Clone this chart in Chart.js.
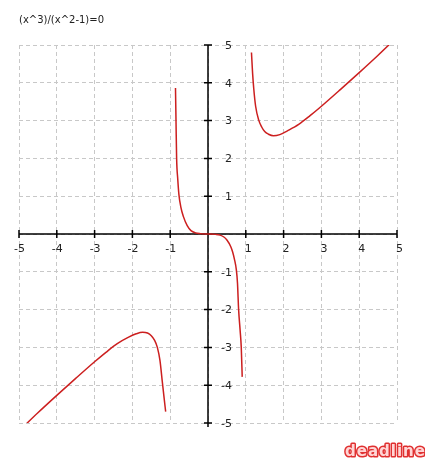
<!DOCTYPE html>
<html>
<head>
<meta charset="utf-8">
<script src="https://cdn.jsdelivr.net/npm/chart.js@4/dist/chart.umd.min.js"></script>
<style>
  body { margin: 0; background: #fff; }
  canvas { display: block; }
</style>
</head>
<body>
<canvas id="plotChart" width="425" height="458"></canvas>
<script>
// Title and tick labels
var chartTitle = "(x^3)/(x^2-1)=0";
var tickValues = [-5, -4, -3, -2, -1, 1, 2, 3, 4, 5];

// Curve branches
var branch1X = [-5, -4.5, -4, -3.5, -3, -2.7, -2.4, -2.1, -1.9, -1.73, -1.6, -1.5, -1.42, -1.34, -1.27, -1.21, -1.16, -1.12];
var branch1Y = [-5.21, -4.73, -4.27, -3.82, -3.38, -3.13, -2.9, -2.73, -2.64, -2.6, -2.62, -2.69, -2.8, -3.0, -3.35, -3.9, -4.35, -4.7];

var branch2X = [-0.86, -0.845, -0.83, -0.8, -0.77, -0.72, -0.65, -0.55, -0.45, -0.33, -0.2, 0];
var branch2Y = [3.86, 2.9, 2.0, 1.45, 1.05, 0.72, 0.46, 0.22, 0.09, 0.03, 0.01, 0];

var branch3X = [0, 0.2, 0.32, 0.42, 0.5, 0.6, 0.65, 0.7, 0.75, 0.78, 0.81, 0.85, 0.88, 0.905];
var branch3Y = [0, -0.01, -0.03, -0.08, -0.16, -0.33, -0.47, -0.67, -0.95, -1.3, -2.0, -2.55, -3.0, -3.78];

var branch4X = [1.15, 1.18, 1.21, 1.26, 1.34, 1.42, 1.5, 1.6, 1.73, 1.9, 2.1, 2.4, 2.7, 3, 3.5, 4, 4.5, 5];
var branch4Y = [4.8, 4.25, 3.85, 3.38, 3.02, 2.83, 2.71, 2.64, 2.6, 2.63, 2.73, 2.9, 3.13, 3.38, 3.82, 4.27, 4.73, 5.21];

var curveColor = "#cc1f1f";

function toPoints(xs, ys) {
  return xs.map(function (x, i) {
    return { x: x, y: ys[i] };
  });
}

function branch(xs, ys) {
  return {
    data: toPoints(xs, ys),
    showLine: true,
    borderColor: curveColor,
    borderWidth: 1.5,
    pointRadius: 0,
    cubicInterpolationMode: "monotone",
    fill: false,
  };
}

// Axes through the origin, with crossing ticks and labels
var originAxes = {
  id: "originAxes",
  beforeDatasetsDraw: function (chart) {
    var ctx = chart.ctx;
    var area = chart.chartArea;
    var xs = chart.scales.x;
    var ys = chart.scales.y;
    var x0 = xs.getPixelForValue(0);
    var y0 = ys.getPixelForValue(0);

    ctx.save();
    ctx.strokeStyle = "#000";
    ctx.lineWidth = 1.5;
    ctx.beginPath();
    ctx.moveTo(area.left, y0);
    ctx.lineTo(area.right, y0);
    ctx.moveTo(x0, area.top);
    ctx.lineTo(x0, area.bottom + 4);
    tickValues.forEach(function (v) {
      var px = xs.getPixelForValue(v);
      var py = ys.getPixelForValue(v);
      ctx.moveTo(px, y0 - 4);
      ctx.lineTo(px, y0 + 4);
      ctx.moveTo(x0 - 4, py);
      ctx.lineTo(x0 + 4, py);
    });
    ctx.stroke();

    ctx.fillStyle = "#222";
    ctx.font = '11px "DejaVu Sans"';
    ctx.textBaseline = "middle";
    ctx.textAlign = "left";
    var minusW = ctx.measureText("-").width;
    tickValues.forEach(function (v) {
      var label = String(v);
      var shift = v < 0 ? minusW : 0;
      ctx.fillText(label, xs.getPixelForValue(v) - shift - 1, y0 + 15);
      ctx.fillText(label, x0 + 17 - shift, ys.getPixelForValue(v) + 1);
    });
    ctx.restore();
  },
  afterDraw: function (chart) {
    var ctx = chart.ctx;
    ctx.save();
    // title
    ctx.fillStyle = "#222";
    ctx.font = '10px "DejaVu Sans"';
    ctx.textBaseline = "middle";
    ctx.fillText(chartTitle, 19, 20);
    // logo, cut off by the right edge
    ctx.font = 'bold 15px "DejaVu Sans"';
    ctx.letterSpacing = "1px";
    ctx.textBaseline = "alphabetic";
    ctx.lineJoin = "round";
    ctx.lineWidth = 3;
    ctx.strokeStyle = "#e03030";
    ctx.strokeText("deadline", 345, 456);
    ctx.fillStyle = "#ffd6d6";
    ctx.fillText("deadline", 345, 456);
    ctx.restore();
  },
};

var gridScale = {
  type: "linear",
  min: -5,
  max: 5,
  ticks: { display: false, stepSize: 1 },
  grid: { color: "#c8c8c8", lineWidth: 1, drawTicks: false },
  border: { display: false, dash: [4, 3] },
};

var chartCanvas = document.getElementById("plotChart");
var plotChart = new Chart(chartCanvas.getContext("2d"), {
  type: "scatter",
  data: {
    datasets: [
      branch(branch1X, branch1Y),
      branch(branch2X, branch2Y),
      branch(branch3X, branch3Y),
      branch(branch4X, branch4Y),
    ],
  },
  options: {
    responsive: false,
    animation: false,
    devicePixelRatio: 1,
    layout: { padding: { left: 19, top: 45, right: 28, bottom: 35 } },
    scales: {
      x: gridScale,
      y: Object.assign({}, gridScale),
    },
    plugins: {
      legend: { display: false },
      tooltip: { enabled: false },
    },
  },
  plugins: [originAxes],
});
</script>
</body>
</html>
